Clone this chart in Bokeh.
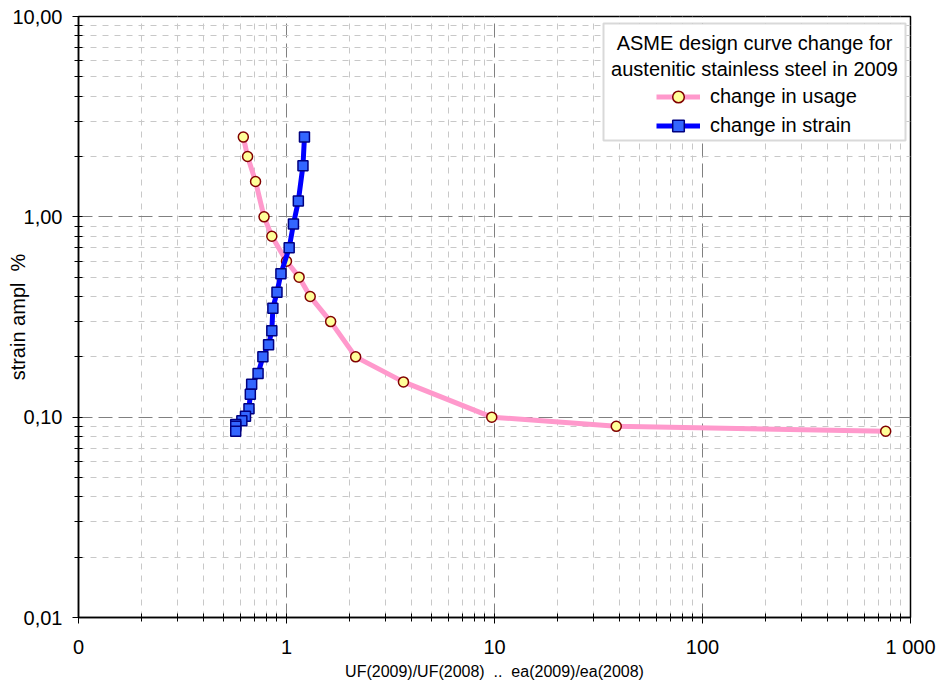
from bokeh.embed import file_html
from bokeh.models import BoxAnnotation, FixedTicker, Label, Legend, LegendItem
from bokeh.plotting import figure
from bokeh.resources import INLINE

# Ratio of usage factors UF(2009)/UF(2008) against strain amplitude (%)
usage_ratio = [0.62, 0.65, 0.71, 0.78, 0.85, 1.0, 1.15, 1.30, 1.63, 2.15, 3.65, 9.7, 38.5, 760]
usage_ampl = [2.5, 2.0, 1.5, 1.0, 0.8, 0.6, 0.5, 0.4, 0.3, 0.2, 0.15, 0.1, 0.09, 0.085]

# Ratio of allowable strain ea(2009)/ea(2008) against strain amplitude (%)
strain_ratio = [1.22, 1.20, 1.14, 1.08, 1.03, 0.94, 0.90, 0.86, 0.85, 0.82, 0.77,
                0.73, 0.68, 0.67, 0.66, 0.635, 0.61, 0.57, 0.57, 0.57]
strain_ampl = [2.5, 1.8, 1.2, 0.92, 0.7, 0.52, 0.42, 0.35, 0.27, 0.23, 0.2,
               0.165, 0.146, 0.13, 0.11, 0.101, 0.096, 0.092, 0.09, 0.085]

x_major = [0.1, 1, 10, 100, 1000]
x_labels = ["0", "1", "10", "100", "1 000"]
y_major = [0.01, 0.1, 1, 10]
y_labels = ["0,01", "0,10", "1,00", "10,00"]

legend_title = ["ASME design curve change for", "austenitic stainless steel in 2009"]
usage_name = "change in usage"
strain_name = "change in strain"
# non-breaking spaces keep the double gaps visible in SVG text
x_title = "UF(2009)/UF(2008)\u00a0 ..\u00a0 ea(2009)/ea(2008)"
y_title = "strain ampl\u00a0 %"

FONT = "Liberation Sans"

x_minor = [m * d for d in x_major[:-1] for m in range(2, 10)]
y_minor = [m * d for d in y_major[:-1] for m in range(2, 10)]

p = figure(
    width=940, height=683,
    x_axis_type="log", y_axis_type="log",
    x_range=(0.1, 1000), y_range=(0.01, 10),
    min_border_left=78, min_border_right=30, min_border_top=16, min_border_bottom=66,
    output_backend="svg", toolbar_location=None,
)
p.background_fill_color = "white"
p.border_fill_color = "white"
p.outline_line_color = "black"
p.outline_line_width = 1.5

p.xaxis.ticker = FixedTicker(ticks=x_major, minor_ticks=x_minor)
p.yaxis.ticker = FixedTicker(ticks=y_major, minor_ticks=y_minor)
p.xaxis.major_label_overrides = dict(zip(x_major, x_labels))
p.yaxis.major_label_overrides = dict(zip(y_major, y_labels))

for ax in (p.xaxis, p.yaxis):
    ax.axis_line_color = "black"
    ax.axis_line_width = 1.5
    ax.major_tick_line_color = "black"
    ax.minor_tick_line_color = "black"
    ax.major_tick_in = 4
    ax.major_tick_out = 6
    ax.minor_tick_in = 4
    ax.minor_tick_out = 4
    ax.major_label_text_font = FONT
    ax.major_label_text_font_size = "20px"
    ax.major_label_text_color = "black"
    ax.axis_label_text_font = FONT
    ax.axis_label_text_font_style = "normal"
    ax.axis_label_text_color = "black"
p.yaxis.major_label_standoff = 10
p.xaxis.major_label_standoff = 12

# Axis titles: the vertical one sits in the tick-label column, between labels
p.yaxis.axis_label = y_title
p.yaxis.axis_label_text_font_size = "20px"
p.yaxis.axis_label_standoff = -20
p.xaxis.axis_label = x_title
p.xaxis.axis_label_text_font_size = "16px"
p.xaxis.axis_label_standoff = 2

for g in (p.xgrid, p.ygrid):
    g.grid_line_color = "#808080"
    g.grid_line_dash = "14 6"
    g.grid_line_width = 1
    g.minor_grid_line_color = "#C8C8C8"
    g.minor_grid_line_dash = "6 6"
    g.minor_grid_line_width = 1

usage_line = p.line(usage_ratio, usage_ampl, line_color="#FF99CC", line_width=5)
usage_pts = p.scatter(usage_ratio, usage_ampl, marker="circle", size=10,
                      fill_color="#FFFF99", line_color="#800000", line_width=1.5)
strain_line = p.line(strain_ratio, strain_ampl, line_color="#0000FF", line_width=5)
strain_pts = p.scatter(strain_ratio, strain_ampl, marker="square", size=10,
                       fill_color="#3366FF", line_color="#000080", line_width=1.5)

# Legend frame in the top-right corner of the plot area
frame_bottom, frame_left = 617, 78
box_l, box_r, box_t, box_b = 603, 905, 23, 140
p.add_layout(BoxAnnotation(
    left=box_l - frame_left, right=box_r - frame_left,
    top=frame_bottom - box_t, bottom=frame_bottom - box_b,
    left_units="screen", right_units="screen", top_units="screen", bottom_units="screen",
    fill_color="white", fill_alpha=1, line_color="#808080", line_width=2,
))

for i, line in enumerate(legend_title):
    p.add_layout(Label(
        x=(box_l + box_r) / 2 - frame_left, y=frame_bottom - (42 + 26 * i),
        x_units="screen", y_units="screen", text=line,
        text_align="center", text_baseline="middle",
        text_font=FONT, text_font_size="20px", text_color="black",
    ))

legend = Legend(
    items=[LegendItem(label=usage_name, renderers=[usage_line, usage_pts]),
           LegendItem(label=strain_name, renderers=[strain_line, strain_pts])],
    location=(656 - frame_left, frame_bottom - 140),
    orientation="vertical",
    padding=0, margin=0, spacing=0,
    glyph_width=44, glyph_height=29, label_height=29, label_standoff=10,
    label_text_font=FONT, label_text_font_size="20px", label_text_color="black",
    border_line_alpha=0, background_fill_alpha=0,
)
p.add_layout(legend, "center")

open("out.html", "w").write(file_html(p, INLINE))
